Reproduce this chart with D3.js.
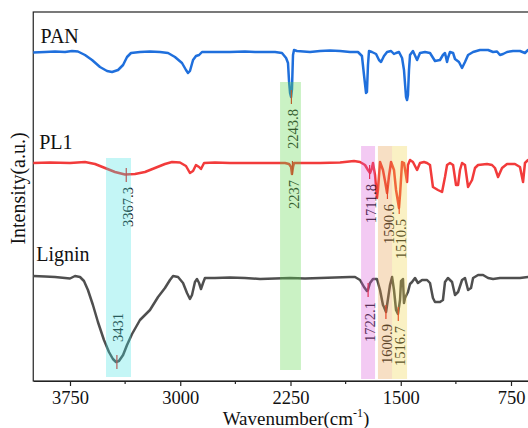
<!DOCTYPE html>
<html>
<head>
<meta charset="utf-8">
<script src="https://cdn.jsdelivr.net/npm/d3@7"></script>
<style>
  html, body { margin: 0; padding: 0; background: #fff; }
  svg { display: block; font-family: "Liberation Serif", "Times New Roman", serif; }
</style>
</head>
<body>
<div id="chart"></div>
<script>
/* ── data: [wavenumber (cm-1), intensity (a.u., offset)] ── */
const panData = [
  [4000,328.5],[3920,329],[3852,329.5],[3784,329],[3736,330],[3696,329.5],[3648,326],[3600,321],
  [3546,314],[3498,310],[3464,309],[3423,311],[3389,316],[3362,324],[3335,328],[3274,329],
  [3206,329.5],[3138,329],[3083,328],[3036,324],[2988,318],[2961,311],[2947,308],[2934,310],
  [2913,321],[2893,325],[2872,326],[2852,329],[2798,329],[2730,329],[2662,329],[2560,329.5],
  [2491,329],[2423,329],[2355,329],[2308,328],[2280,323],[2267,318],[2260,300],[2253,288],
  [2246,284],[2240,292],[2233,326],[2226,331],[2206,330],[2117,329],[2049,330],[1981,330.5],
  [1913,330],[1845,329],[1791,329],[1764,325],[1750,306],[1736,288],[1730,289],[1723,316],
  [1716,330],[1696,329],[1668,327],[1648,321],[1634,319],[1614,325],[1593,329],[1566,330],
  [1546,327],[1532,328],[1512,329],[1491,323],[1478,311],[1464,284],[1457,281],[1451,286],
  [1444,311],[1437,326],[1417,330],[1389,321],[1369,328],[1335,329],[1301,328],[1267,320],
  [1233,321],[1213,326],[1199,328],[1185,319],[1179,323],[1165,329],[1144,328],[1131,322],
  [1104,319],[1083,313],[1063,319],[1042,326],[1008,329],[961,331],[906,331],[872,329],
  [845,329.5],[825,326],[804,327],[777,329],[736,330],[689,330],[655,328],[634,331],[600,330]
];

const pl1Data = [
  [4000,218],[3886,218.5],[3750,218],[3648,219],[3580,217],[3512,213],[3444,209],[3376,206.5],
  [3308,207],[3240,209],[3172,213],[3104,217],[3056,219],[3002,218.5],[2961,215],[2934,208],
  [2913,210],[2893,216],[2872,214],[2859,212],[2838,218],[2764,218.5],[2662,218],[2525,218],
  [2389,218],[2287,218],[2260,217],[2246,214],[2240,207],[2233,214],[2226,218],[2185,218],
  [2049,218],[1913,218.5],[1818,220],[1777,219],[1743,216],[1723,211],[1709,208],[1696,213],
  [1689,218],[1675,206],[1662,183],[1655,191],[1641,219],[1621,211],[1607,200],[1593,188],
  [1580,205],[1566,219],[1546,211],[1532,191],[1512,173],[1505,186],[1491,219],[1478,218],
  [1457,199],[1451,216],[1437,221],[1417,219],[1389,211],[1369,218],[1342,219],[1321,218],
  [1301,216],[1281,194],[1247,191],[1219,189],[1199,204],[1185,216],[1165,218],[1144,216],
  [1124,196],[1110,196],[1097,211],[1083,218],[1063,216],[1042,194],[1015,201],[995,213],
  [974,216],[913,217],[879,216],[859,213],[838,204],[811,213],[777,217],[723,217],
  [689,214],[668,199],[655,218],[634,221],[600,219]
];

const ligninData = [
  [4000,105],[3920,104.5],[3852,104],[3784,103],[3750,102.5],[3716,105],[3682,104],[3655,100],
  [3628,91],[3594,76],[3560,59],[3519,41],[3485,29],[3458,22],[3437,19],[3417,20],
  [3389,26],[3362,36],[3328,47],[3274,61],[3206,71],[3151,84],[3104,93],[3070,101],
  [3049,105],[3015,104],[2981,98],[2954,88],[2934,82],[2920,86],[2900,99],[2886,102],
  [2872,98],[2859,92],[2845,98],[2832,103],[2764,103],[2662,103.5],[2560,103],[2457,102],
  [2355,102.5],[2253,103],[2151,102.5],[2049,103],[1947,103.5],[1845,104],[1811,104],[1777,101],
  [1750,94],[1730,90],[1723,91],[1709,98],[1689,102],[1662,102],[1641,91],[1621,76],
  [1614,74],[1600,69],[1593,76],[1573,96],[1559,104],[1546,91],[1532,71],[1519,67],
  [1505,81],[1498,100],[1485,102],[1478,78],[1471,83],[1451,89],[1437,97],[1423,99],
  [1403,103],[1383,98],[1355,101],[1321,101],[1301,98],[1281,83],[1267,79],[1233,79],
  [1213,81],[1199,99],[1179,103],[1151,99],[1131,86],[1110,89],[1083,101],[1063,103],
  [1042,91],[1022,93],[1008,103],[974,106],[940,106],[906,103],[872,102],[825,103],
  [757,103],[689,103],[634,104],[600,103.5]
];

const seriesNames  = ['PAN', 'PL1', 'Lignin'];
const seriesColors = ['#1f6fdc', '#f23b3b', '#4f4f4f'];
const seriesData   = [panData, pl1Data, ligninData];

// peak marks: [series index, wavenumber, intensity, label side]
const peaks = [
  [0, 2243.8, 284, 'below'],
  [1, 3367.3, 206, 'below'],
  [1, 2237,   213, 'below'],
  [1, 1711.8, 209, 'below'],
  [1, 1590.6, 189, 'below'],
  [1, 1510.5, 174, 'below'],
  [2, 3431,   19,  'above'],
  [2, 1722.1, 91,  'below'],
  [2, 1600.9, 69,  'below'],
  [2, 1516.7, 67,  'below']
];

// highlight bands: [from, to, bottom, top, colour]
const bands = [
  [3505, 3335, 4,  223, 'rgba(60,225,225,0.30)'],
  [2321, 2179, 11, 299, 'rgba(95,215,75,0.33)'],
  [1770, 1675, 2,  235, 'rgba(215,80,215,0.30)'],
  [1655, 1559, 2,  235, 'rgba(230,150,60,0.30)'],
  [1559, 1457, 2,  235, 'rgba(240,210,60,0.30)']
];

const majorTicks = [3750, 3000, 2250, 1500, 750];
const minorTicks = [3375, 2625, 1875, 1125];

/* ── layout ── */
const W = 528, H = 428;
const x = d3.scaleLinear().domain([4000, 400]).range([33.25, 562.45]);
const y = d3.scaleLinear().domain([0, 369]).range([381, 12]);

const svg = d3.select('#chart').append('svg')
  .attr('width', W).attr('height', H);

// frame
svg.append('rect')
  .attr('x', x(4000)).attr('y', y(369))
  .attr('width', x(400) - x(4000)).attr('height', y(0) - y(369))
  .attr('fill', 'none').attr('stroke', '#222').attr('stroke-width', 1.2);

// bottom axis
const xAxis = svg.append('g')
  .attr('transform', `translate(0,${y(0)})`)
  .call(d3.axisBottom(x).tickValues(majorTicks).tickSize(5).tickSizeOuter(0).tickPadding(5).tickFormat(d3.format('d')));
xAxis.select('.domain').attr('stroke', '#222').attr('stroke-width', 1.2);
xAxis.selectAll('.tick line').attr('stroke', '#222').attr('stroke-width', 1.2);
xAxis.selectAll('.tick text')
  .attr('fill', '#111')
  .style('font-family', '"Liberation Serif", serif')
  .style('font-size', '18.5px');

svg.append('g').selectAll('line')
  .data(minorTicks).join('line')
  .attr('x1', d => x(d)).attr('x2', d => x(d))
  .attr('y1', y(0)).attr('y2', y(0) + 3)
  .attr('stroke', '#222').attr('stroke-width', 1.2);

// axis titles
const xt = svg.append('text')
  .attr('x', 296).attr('y', 425)
  .attr('text-anchor', 'middle')
  .style('font-size', '19px').attr('fill', '#111')
  .text('Wavenumber(cm');
xt.append('tspan').attr('dy', -8).style('font-size', '12px').text('-1');
xt.append('tspan').attr('dy', 8).text(')');

svg.append('text')
  .attr('transform', `translate(25,${(y(0) + y(369)) / 2 - 8}) rotate(-90)`)
  .attr('text-anchor', 'middle')
  .style('font-size', '20px').attr('fill', '#111')
  .text('Intensity(a.u.)');

// spectra
const line = d3.line().x(d => x(d[0])).y(d => y(d[1]));
seriesData.forEach((data, i) => {
  svg.append('path')
    .datum(data)
    .attr('d', line)
    .attr('fill', 'none')
    .attr('stroke', seriesColors[i])
    .attr('stroke-width', 2.5)
    .attr('stroke-linejoin', 'round');
});

// series names
const nameAt = [[3950, 338], [3960, 232], [3980, 120]];
seriesNames.forEach((n, i) => {
  svg.append('text')
    .attr('x', x(nameAt[i][0])).attr('y', y(nameAt[i][1]))
    .style('font-size', '20px').attr('fill', '#111')
    .text(n);
});

// peak marks + labels
const g = svg.append('g');
peaks.forEach(([s, wn, v, side]) => {
  const px = x(wn), py = y(v);
  g.append('line')
    .attr('x1', px).attr('x2', px)
    .attr('y1', py - 7).attr('y2', py + 7)
    .attr('stroke', '#e8231f').attr('stroke-width', 1.2);
  const ly = side === 'below' ? py + 12 : py - 20;
  g.append('text')
    .attr('transform', `translate(${px + 1.5},${ly}) rotate(-90)`)
    .attr('text-anchor', side === 'below' ? 'end' : 'start')
    .attr('dominant-baseline', 'central')
    .style('font-size', '14.5px').attr('fill', '#222')
    .text(wn);
});

// highlight bands (drawn on top, translucent)
svg.append('g').selectAll('rect')
  .data(bands).join('rect')
  .attr('x', d => x(d[0]))
  .attr('width', d => x(d[1]) - x(d[0]))
  .attr('y', d => y(d[3]))
  .attr('height', d => y(d[2]) - y(d[3]))
  .attr('fill', d => d[4]);
</script>
</body>
</html>
